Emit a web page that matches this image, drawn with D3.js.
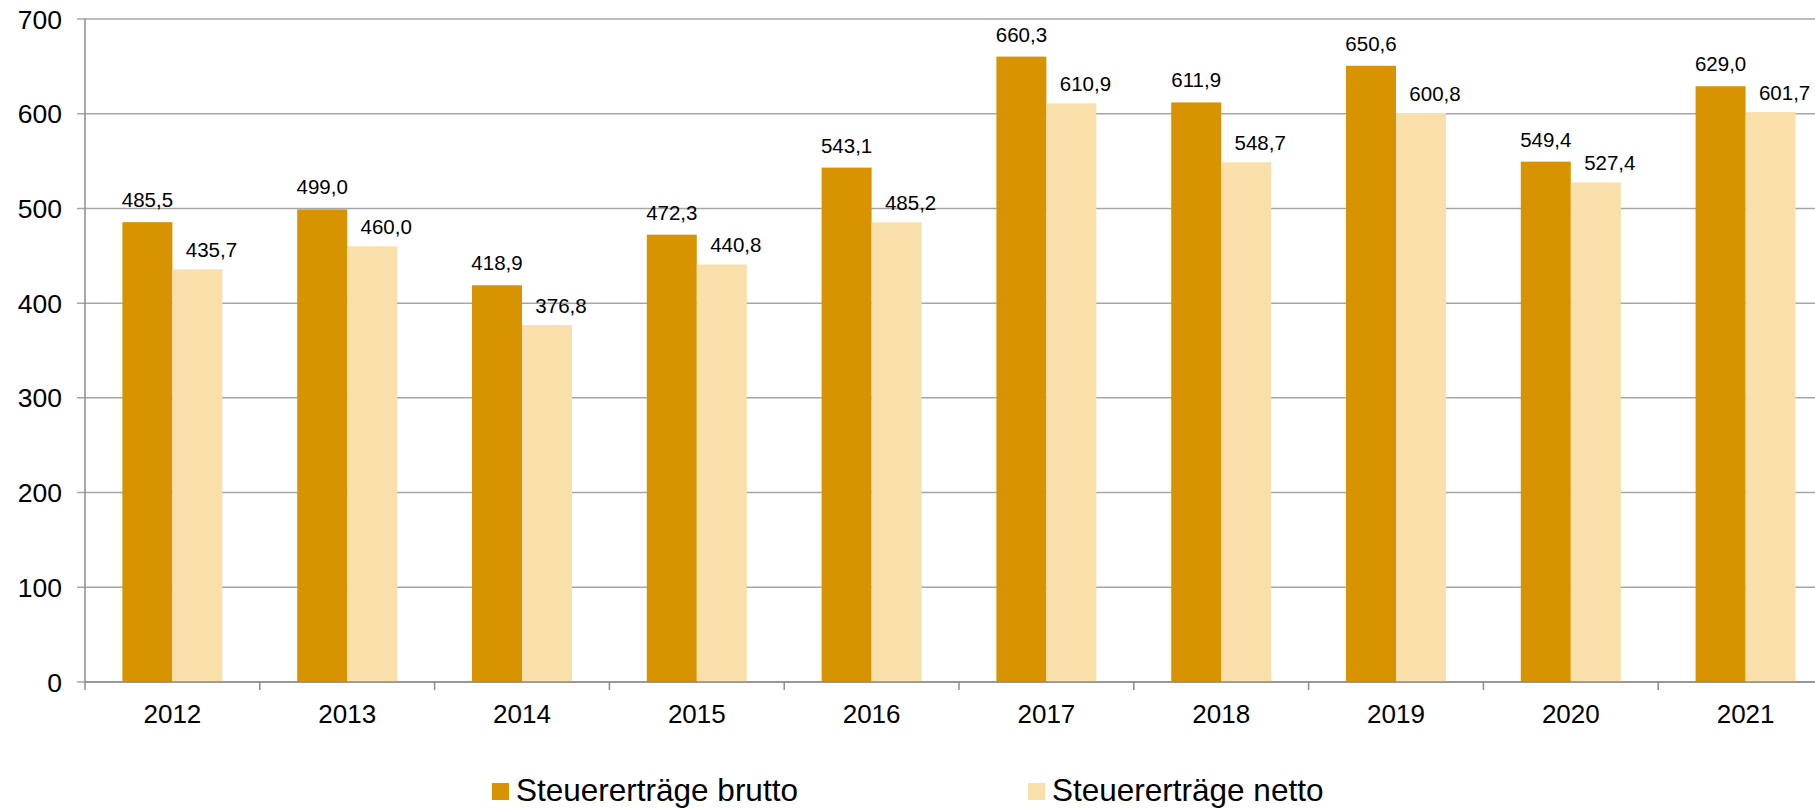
<!DOCTYPE html>
<html>
<head>
<meta charset="utf-8">
<script src="https://cdn.jsdelivr.net/npm/d3@7"></script>
<style>
    body { margin: 0; background: #fff; }
    text { font-family: "Liberation Sans", Arial, sans-serif; fill: #000; }
</style>
</head>
<body>
<div id="chart"></div>
<script>
// chart values
const years = ["2012", "2013", "2014", "2015", "2016", "2017", "2018", "2019", "2020", "2021"];
const brutto = [485.5, 499.0, 418.9, 472.3, 543.1, 660.3, 611.9, 650.6, 549.4, 629.0];
const netto = [435.7, 460.0, 376.8, 440.8, 485.2, 610.9, 548.7, 600.8, 527.4, 601.7];
const seriesNames = ["Steuererträge brutto", "Steuererträge netto"];
const yTicks = [0, 100, 200, 300, 400, 500, 600, 700];

const colors = ["#D79400", "#F9DFA9"];
const width = 1815;
const height = 808;
const margin = { top: 19, left: 85, bottom: 126 };
const bandWidth = 174.8;

const svg = d3.select("#chart")
    .append("svg")
    .attr("width", width)
    .attr("height", height);

// scales
const x = d3.scaleBand()
    .domain(years)
    .range([margin.left, margin.left + bandWidth * years.length])
    .padding(0);

const xSeries = d3.scaleBand()
    .domain([0, 1])
    .range([37.4, bandWidth - 37.4])
    .padding(0);

const y = d3.scaleLinear()
    .domain([0, 700])
    .range([height - margin.bottom, margin.top]);

// gridlines
svg.append("g")
    .selectAll("line")
    .data(yTicks)
    .enter()
    .append("line")
    .attr("x1", margin.left - 8)
    .attr("x2", width)
    .attr("y1", d => y(d))
    .attr("y2", d => y(d))
    .style("stroke", "#A6A6A6")
    .style("stroke-width", 1.5);

// y labels
svg.append("g")
    .selectAll("text")
    .data(yTicks)
    .enter()
    .append("text")
    .attr("x", 62)
    .attr("y", d => y(d))
    .attr("dy", "0.36em")
    .attr("text-anchor", "end")
    .attr("font-size", "26.5px")
    .text(d => d);

// bars
const rows = years.map((yr, i) => ({ year: yr, values: [brutto[i], netto[i]] }));

const groups = svg.append("g")
    .selectAll("g")
    .data(rows)
    .enter()
    .append("g")
    .attr("transform", d => "translate(" + x(d.year) + ",0)");

groups.selectAll("rect")
    .data(d => d.values.map((v, k) => ({ k: k, v: v })))
    .enter()
    .append("rect")
    .attr("x", d => xSeries(d.k))
    .attr("width", xSeries.bandwidth())
    .attr("y", d => y(d.v))
    .attr("height", d => y(0) - y(d.v))
    .style("fill", d => colors[d.k]);

// data labels, netto labels sit a bit to the right like the original
groups.selectAll("text")
    .data(d => d.values.map((v, k) => ({ k: k, v: v })))
    .enter()
    .append("text")
    .attr("x", d => xSeries(d.k) + xSeries.bandwidth() / 2 + (d.k === 1 ? 14 : 0))
    .attr("y", d => y(d.v) - (d.k === 1 ? 12 : 15))
    .attr("text-anchor", "middle")
    .attr("font-size", "20.5px")
    .text(d => d.v.toFixed(1).replace(".", ","));

// axes lines
svg.append("line")
    .attr("x1", margin.left)
    .attr("x2", margin.left)
    .attr("y1", y(700))
    .attr("y2", y(0) + 8)
    .style("stroke", "#8C8C8C")
    .style("stroke-width", 1.5);

svg.append("line")
    .attr("x1", margin.left)
    .attr("x2", width)
    .attr("y1", y(0))
    .attr("y2", y(0))
    .style("stroke", "#8C8C8C")
    .style("stroke-width", 1.5);

// x ticks between categories
svg.append("g")
    .selectAll("line")
    .data(years.slice(1))
    .enter()
    .append("line")
    .attr("x1", d => x(d))
    .attr("x2", d => x(d))
    .attr("y1", y(0))
    .attr("y2", y(0) + 8)
    .style("stroke", "#8C8C8C")
    .style("stroke-width", 1.5);

// x labels
svg.append("g")
    .selectAll("text")
    .data(years)
    .enter()
    .append("text")
    .attr("x", d => x(d) + bandWidth / 2)
    .attr("y", y(0) + 41)
    .attr("text-anchor", "middle")
    .attr("font-size", "26px")
    .text(d => d);

// legend
const legendX = [492, 1028];
const legend = svg.append("g")
    .selectAll("g")
    .data(seriesNames)
    .enter()
    .append("g")
    .attr("transform", (d, i) => "translate(" + legendX[i] + ",783)");

legend.append("rect")
    .attr("width", 17)
    .attr("height", 17)
    .style("fill", (d, i) => colors[i]);

legend.append("text")
    .attr("x", 24)
    .attr("y", 18)
    .attr("font-size", "31.5px")
    .text(d => d);
</script>
</body>
</html>
